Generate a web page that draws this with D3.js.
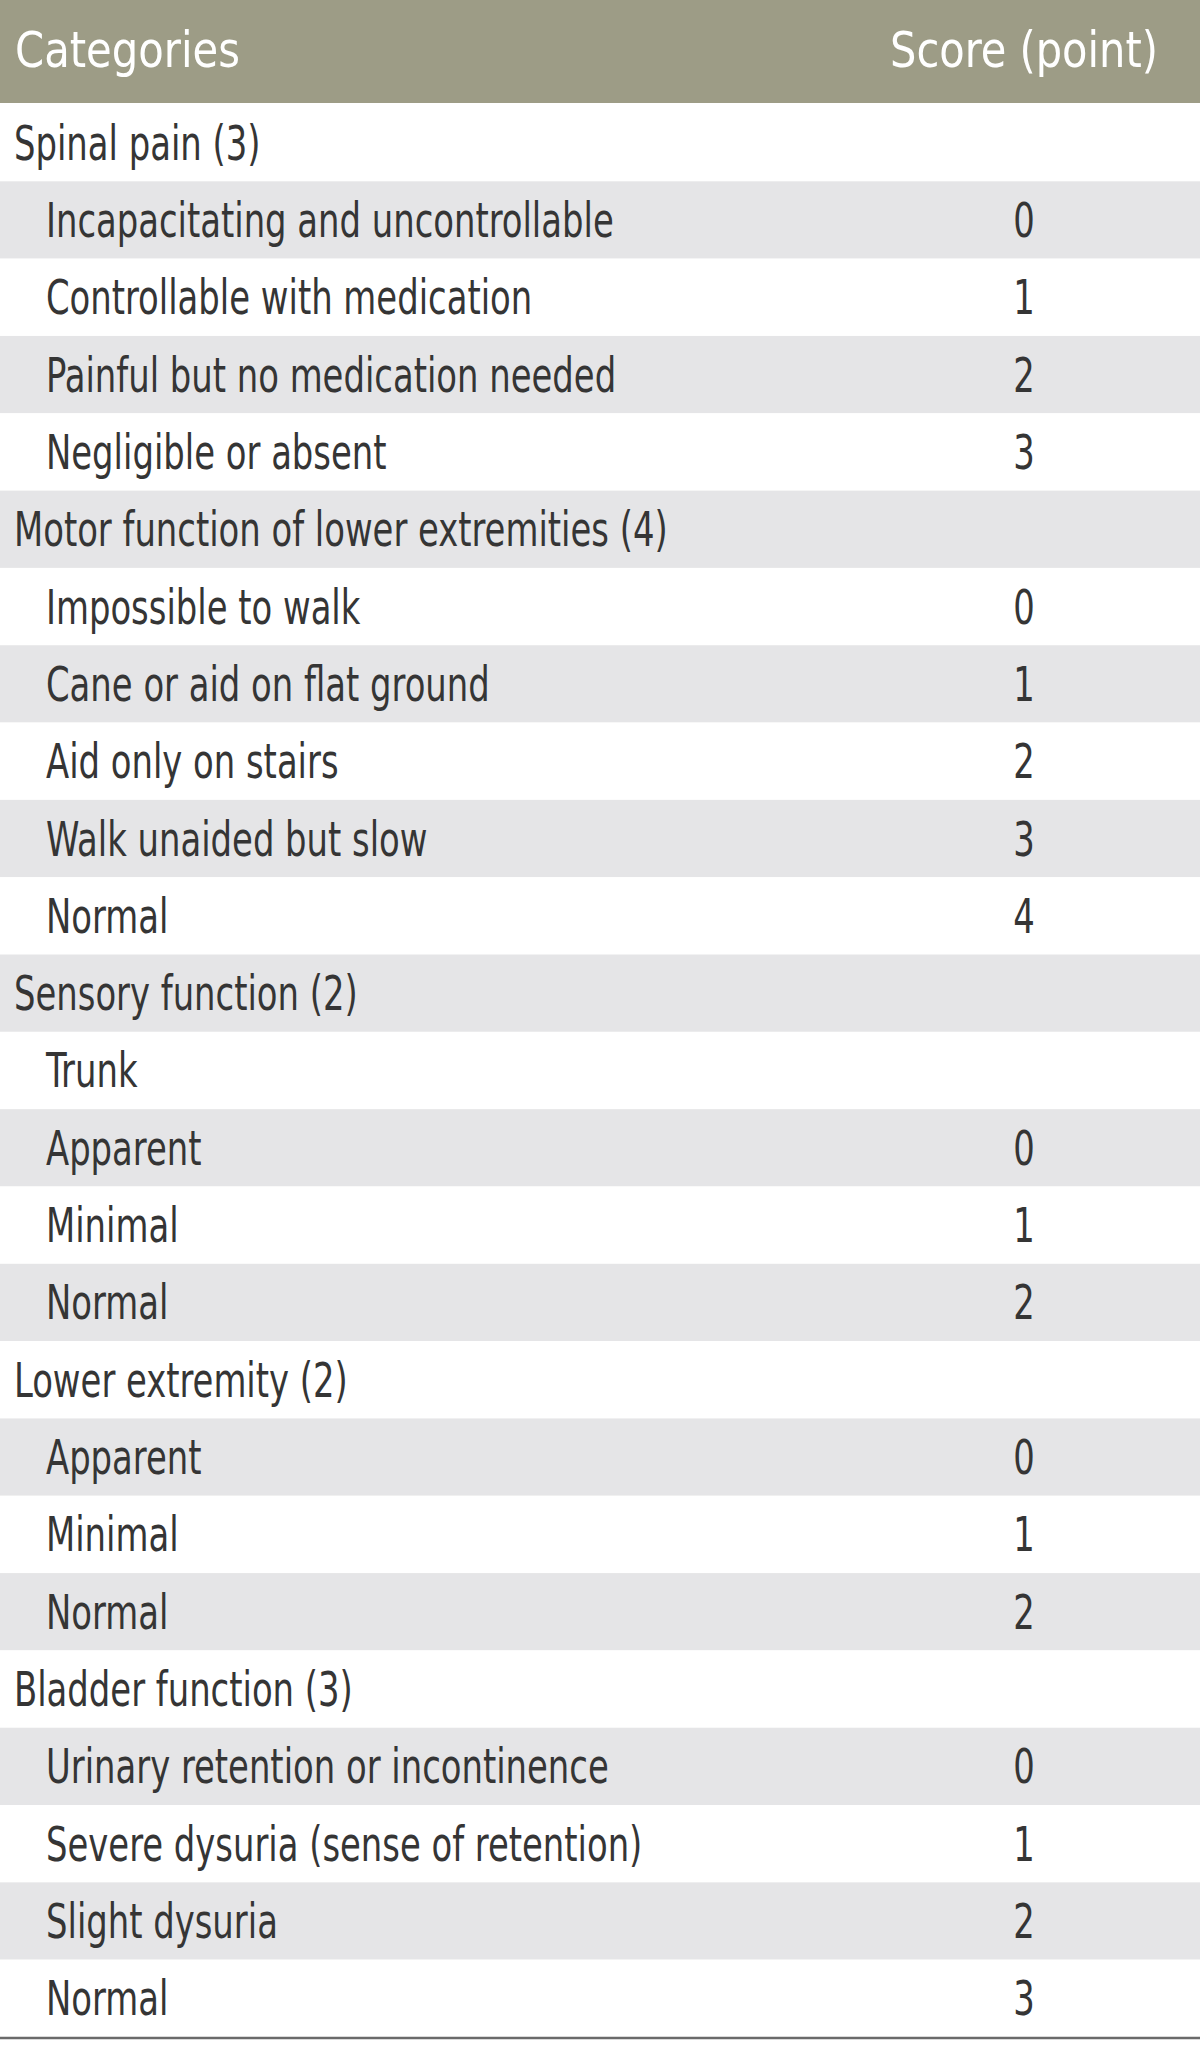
<!DOCTYPE html>
<html>
<head>
<meta charset="utf-8">
<script src="https://cdn.jsdelivr.net/npm/d3@7"></script>
<style>
  html, body { margin: 0; padding: 0; background: #fff; }
  svg text { font-family: "Liberation Sans Narrow", "DejaVu Sans Condensed", "Liberation Sans", sans-serif; }
</style>
</head>
<body>
<div id="table"></div>
<script>
// table content, one entry per row
const labels = [
  'Spinal pain (3)',
  'Incapacitating and uncontrollable',
  'Controllable with medication',
  'Painful but no medication needed',
  'Negligible or absent',
  'Motor function of lower extremities (4)',
  'Impossible to walk',
  'Cane or aid on flat ground',
  'Aid only on stairs',
  'Walk unaided but slow',
  'Normal',
  'Sensory function (2)',
  'Trunk',
  'Apparent',
  'Minimal',
  'Normal',
  'Lower extremity (2)',
  'Apparent',
  'Minimal',
  'Normal',
  'Bladder function (3)',
  'Urinary retention or incontinence',
  'Severe dysuria (sense of retention)',
  'Slight dysuria',
  'Normal'
];
// 0 = category heading, 1 = sub item
const levels = [0, 1, 1, 1, 1, 0, 1, 1, 1, 1, 1, 0, 1, 1, 1, 1, 0, 1, 1, 1, 0, 1, 1, 1, 1];
const scores = ['', '0', '1', '2', '3', '', '0', '1', '2', '3', '4', '', '', '0', '1', '2', '', '0', '1', '2', '', '0', '1', '2', '3'];
const headers = ['Categories', 'Score (point)'];

const width = 1200;
const height = 2048;
const headH = 104;
const bottom = 2037;
const scoreX = 1024;
const fontSize = 48;

const svg = d3.select('#table')
  .append('svg')
  .attr('width', width)
  .attr('height', height);

// rows are laid out by a band scale
const y = d3.scaleBand()
  .domain(d3.range(labels.length))
  .range([headH, bottom])
  .padding(0);

// header band
svg.append('rect')
  .attr('x', 0).attr('y', 0)
  .attr('width', width).attr('height', headH - 1)
  .attr('fill', '#9d9c86');

// row backgrounds, every other one grey
svg.selectAll('rect.row')
  .data(labels)
  .join('rect')
  .attr('class', 'row')
  .attr('x', 0)
  .attr('y', (d, i) => y(i))
  .attr('width', width)
  .attr('height', y.bandwidth())
  .attr('fill', (d, i) => i % 2 ? '#e5e5e7' : '#ffffff');

// bottom rule
svg.append('line')
  .attr('x1', 0).attr('x2', width)
  .attr('y1', bottom + 1).attr('y2', bottom + 1)
  .attr('stroke', '#6a6a6a')
  .attr('stroke-width', 2.5);

const g = svg.append('g');

// header texts get their own width (they are set a little wider in the picture)
const headX = [15, scoreX];
const headW = [225, 268];
g.selectAll('text.head')
  .data(headers)
  .join('text')
  .attr('class', 'head')
  .attr('y', 67)
  .attr('font-size', 50)
  .attr('fill', '#ffffff')
  .attr('text-anchor', (d, i) => i ? 'middle' : 'start')
  .text(d => d)
  .each(function (d, i) {
    const kh = headW[i] / this.getComputedTextLength();
    d3.select(this)
      .attr('x', headX[i] / kh)
      .attr('transform', `scale(${kh},1)`);
  });

const baseOff = y.bandwidth() / 2 + 17;

g.selectAll('text.label')
  .data(labels)
  .join('text')
  .attr('class', 'label cell')
  .attr('data-x', (d, i) => levels[i] ? 46 : 14)
  .attr('y', (d, i) => y(i) + baseOff)
  .text(d => d);

g.selectAll('text.score')
  .data(scores)
  .join('text')
  .attr('class', 'score cell')
  .attr('data-x', scoreX)
  .attr('data-anchor', 'middle')
  .attr('y', (d, i) => y(i) + baseOff)
  .text(d => d);

// condense body text horizontally so that a reference label matches the picture width
g.selectAll('text.cell').attr('font-size', fontSize).attr('fill', '#353535');
const ref = g.selectAll('text.label').filter(d => d === 'Incapacitating and uncontrollable').node();
const k = 568 / ref.getComputedTextLength();

g.selectAll('text.cell').each(function () {
  const t = d3.select(this);
  const x = +t.attr('data-x');
  const mid = t.attr('data-anchor') === 'middle';
  t.attr('text-anchor', mid ? 'middle' : 'start')
    .attr('x', x / k)
    .attr('transform', `scale(${k},1)`);
});
</script>
</body>
</html>
